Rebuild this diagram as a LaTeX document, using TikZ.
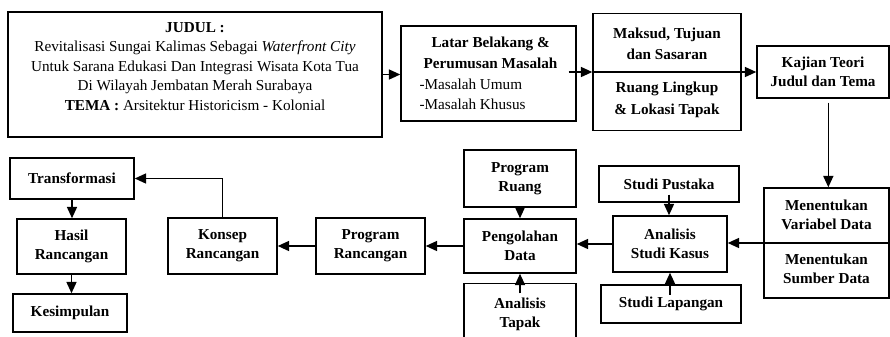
\documentclass[tikz,border=0pt]{standalone}
\usepackage{fontspec}
\setmainfont{Liberation Serif}
\usepackage{tikz}
\usetikzlibrary{arrows.meta,positioning}

\begin{document}
\begin{tikzpicture}[->,>={Triangle[length=8.5pt,width=7.5pt]},x=0.75pt,y=-0.75pt,line width=1.1pt,
    font=\fontsize{11.4}{14.25}\selectfont,
    box/.style={rectangle,draw,align=center,inner sep=1pt,font=\fontsize{11.4}{14.25}\selectfont\bfseries},
    teks/.style={align=center,inner sep=1pt,font=\fontsize{11.4}{14.25}\selectfont\bfseries}]

  \clip (0,0) rectangle (890,336);

  % baris atas
  \node[box,minimum width=280.5pt,minimum height=93.75pt] (judul) at (195,74.5) {};
  \node[teks,font=\fontsize{11.4}{14.6}\selectfont] (judulteks) at (195,66.5)
    {\textbf{JUDUL :}\\Revitalisasi Sungai Kalimas Sebagai \textit{Waterfront City}\\
     Untuk Sarana Edukasi Dan Integrasi Wisata Kota Tua\\
     Di Wilayah Jembatan Merah Surabaya\\
     \textbf{TEMA :} Arsitektur Historicism - Kolonial};
  \node[box,minimum width=131.25pt,minimum height=71.25pt,align=left,font=\fontsize{11.4}{15.5}\selectfont] (latar) at (488.5,73.5)
    {\hspace*{9pt}\textbf{Latar Belakang \&}\\\hspace*{3pt}\textbf{Perumusan Masalah}\\
     -Masalah Umum\\-Masalah Khusus};
  \node[box,minimum width=111pt,minimum height=87.75pt] (maksud) at (667,72) {};
  \node[teks,font=\fontsize{11.4}{16}\selectfont\bfseries] (tujuan) at (667,44) {Maksud, Tujuan\\dan Sasaran};
  \node[teks,font=\fontsize{11.4}{16}\selectfont\bfseries] (lingkup) at (667,100) {Ruang Lingkup\\\& Lokasi Tapak};
  \node[box,minimum width=99pt,minimum height=39pt] (kajian) at (823,72) {Kajian Teori\\Judul dan Tema};

  % baris bawah
  \node[box,minimum width=93.75pt,minimum height=82.5pt] (tentu) at (826.5,243) {};
  \node[teks,font=\fontsize{11.4}{13.8}\selectfont\bfseries] (variabel) at (826.5,215) {Menentukan\\Variabel Data};
  \node[teks,font=\fontsize{11.4}{13.8}\selectfont\bfseries] (sumber) at (826.5,269) {Menentukan\\Sumber Data};
  \node[box,minimum width=85.5pt,minimum height=42pt] (kasus) at (670,244) {Analisis\\Studi Kasus};
  \node[box,minimum width=105pt,minimum height=27pt] (pustaka) at (669,184) {Studi Pustaka};
  \node[box,minimum width=105pt,minimum height=28.5pt] (lapangan) at (671,304) {Studi Lapangan};
  \node[box,minimum width=84pt,minimum height=40.5pt] (olah) at (520,246) {Pengolahan\\Data};
  \node[box,minimum width=84pt,minimum height=42.75pt] (pruang) at (520,178.5) {Program\\Ruang};
  \node[box,minimum width=84pt,minimum height=46pt] (tapak) at (520,314) {Analisis\\Tapak};
  \node[box,minimum width=81.75pt,minimum height=42pt] (prancang) at (370.5,246) {Program\\Rancangan};
  \node[box,minimum width=81.75pt,minimum height=42pt] (konsep) at (222.5,246) {Konsep\\Rancangan};
  \node[box,minimum width=93pt,minimum height=30.75pt] (transf) at (72,178.5) {Transformasi};
  \node[box,minimum width=81.75pt,minimum height=41.25pt] (hasil) at (71.5,246.5) {Hasil\\Rancangan};
  \node[box,minimum width=85.5pt,minimum height=28.5pt] (simpul) at (70,313) {Kesimpulan};

  \draw (judul.east) -- (latar.west |- judul.east);
  \draw ([xshift=-6pt]latar.east |- maksud.west) -- (maksud.west);
  \draw (maksud.west) -- (kajian.west |- maksud.west);
  \draw ([xshift=4pt,yshift=-3pt]kajian.south) -- ([xshift=4pt]kajian.south |- tentu.north);
  \draw (tentu.east) -- (kasus.east |- tentu.east);
  \draw ([yshift=6pt]pustaka.south) -- (pustaka.south |- kasus.north);
  \draw ([yshift=-8pt]lapangan.north -| kasus.south) -- (kasus.south);
  \draw (kasus.west) -- (olah.east |- kasus.west);
  \draw (pruang.south) -- (olah.north);
  \draw ([yshift=-8pt]tapak.north) -- (olah.south);
  \draw (olah.west) -- (prancang.east |- olah.west);
  \draw (prancang.west) -- (konsep.east);
  \draw (konsep.north) |- (transf.east);
  \draw (transf.south) -- (hasil.north -| transf.south);
  \draw (hasil.south) -- (simpul.north -| hasil.south);

\end{tikzpicture}
\end{document}
